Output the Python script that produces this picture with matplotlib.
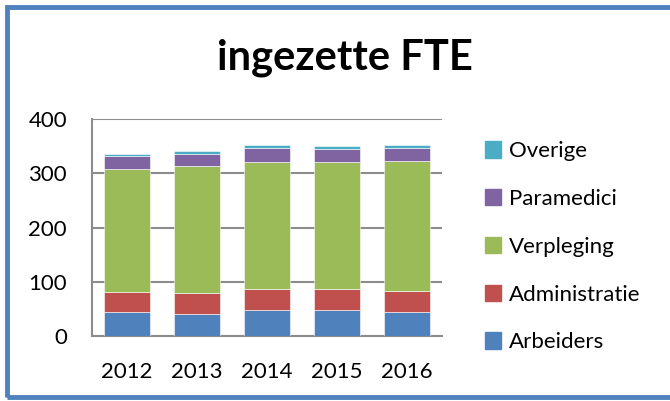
import matplotlib.pyplot as plt
from matplotlib.patches import Rectangle, Patch

years = ["2012", "2013", "2014", "2015", "2016"]
arbeiders = [44, 41, 48, 48, 45]
administratie = [38, 38, 38, 38, 38]
verpleging = [225, 234, 235, 234, 239]
paramedici = [24, 23, 26, 25, 25]
overige = [4, 5, 5, 5, 5]

series = [
    ("Arbeiders", arbeiders, "#4F81BD"),
    ("Administratie", administratie, "#C0504D"),
    ("Verpleging", verpleging, "#9BBB59"),
    ("Paramedici", paramedici, "#8064A2"),
    ("Overige", overige, "#4BACC6"),
]

plt.rcParams["font.family"] = ["Lato", "DejaVu Sans"]

fig = plt.figure(figsize=(6.7, 4.01), dpi=100)
ax = fig.add_axes([0.1373, 0.1621, 0.5224, 0.5411])

x = list(range(len(years)))
bottom = [0] * len(years)
for name, vals, color in series:
    ax.bar(x, vals, 0.645, bottom=bottom, color=color, label=name,
           edgecolor="white", linewidth=0.4, zorder=3)
    bottom = [b + v for b, v in zip(bottom, vals)]

ax.set_xlim(-0.5, len(years) - 0.5)
ax.set_ylim(0, 400)
ax.set_yticks([0, 100, 200, 300, 400])
ax.set_xticks(x)
ax.set_xticklabels(years)
ax.yaxis.grid(True, color="#8C8C8C", linewidth=1.5, zorder=0)
ax.tick_params(axis="both", length=0, labelsize=16)
ax.tick_params(axis="x", pad=19)
ax.tick_params(axis="y", pad=18)
for side in ["top", "right"]:
    ax.spines[side].set_visible(False)
for side in ["left", "bottom"]:
    ax.spines[side].set_color("#8C8C8C")
    ax.spines[side].set_linewidth(1.5)

# legend in reverse order, like the stacking
handles = [Patch(color=c) for _, _, c in series][::-1]
labels = [n for n, _, _ in series][::-1]
fig.legend(handles, labels, loc="upper left", bbox_to_anchor=(0.71, 0.67),
           frameon=False, fontsize=16, handlelength=0.75, handleheight=0.75,
           handletextpad=0.35, labelspacing=1.25, borderaxespad=0)

fig.text(0.515, 0.855, "ingezette FTE", ha="center", va="center",
         fontsize=30, fontweight="bold")

fig.patches.append(Rectangle((0.0105, 0.01), 1.05, 0.973, transform=fig.transFigure,
                             fill=False, edgecolor="#4F81BD", linewidth=3.5))

fig.savefig("out.png", dpi=100)
